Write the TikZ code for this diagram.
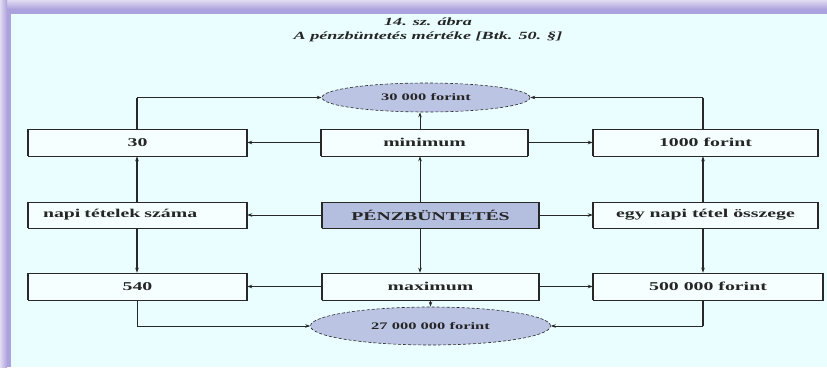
\documentclass[tikz,border=0pt]{standalone}
\usepackage{fontspec}
\setmainfont{Liberation Serif}
\newfontfamily\bx[FakeStretch=1.65]{Liberation Serif}
\usetikzlibrary{shapes.geometric,arrows.meta}
\definecolor{bgc}{RGB}{234,254,255}
\definecolor{frm}{RGB}{172,162,221}
\definecolor{frml}{RGB}{225,220,242}
\definecolor{boxf}{RGB}{246,255,255}
\definecolor{penf}{RGB}{180,190,222}
\definecolor{ellf}{RGB}{188,196,228}
\definecolor{ln}{RGB}{40,40,40}
\begin{document}
\begin{tikzpicture}[x=1pt,y=-1pt,
  box/.style={draw=ln,line width=0.5pt,fill=boxf,minimum height=27pt,inner sep=0pt,
    font=\bx\bfseries\fontsize{12}{14}\selectfont,text=black!85},
  oval/.style={ellipse,draw=ln,densely dashed,line width=0.6pt,fill=ellf,inner sep=0pt,
    font=\bx\bfseries\fontsize{10}{12}\selectfont,text=black!85},
  ttl/.style={font=\bx\bfseries\itshape\fontsize{11}{13}\selectfont,text=black!85},
  arr/.style={draw=ln,line width=0.6pt,-{Stealth[length=5pt,width=3.5pt]}},
  varr/.style={arr,line width=1.3pt},
  seg/.style={draw=ln,line width=1.3pt}]
\useasboundingbox (0,0) rectangle (827,367);
% frame
\fill[frm] (0,0) rectangle (827,367);
\shade[top color=frml,bottom color=frm] (0,0) rectangle (827,9);
\shade[left color=frml,right color=frm] (0,0) rectangle (7,367);
\fill[bgc] (11,14) rectangle (827,367);
% title
\node[ttl] (t1) at (428,22) {14. sz. ábra};
\node[ttl] (t2) at (428,37) {A pénzbüntetés mértéke [Btk. 50. §]};
% column coordinates
\coordinate (lx) at (137,0);
\coordinate (mx) at (420,0);
\coordinate (rx) at (703,0);
% ovals
\node[oval,minimum width=208pt,minimum height=29pt] (e1) at (426,97.5) {30 000 forint};
\node[oval,minimum width=240pt,minimum height=38pt] (e2) at (430.5,326) {27 000 000 forint};
% boxes
\node[box,minimum width=219pt] (n30) at (137.5,142.5) {30};
\node[box,minimum width=206pt] (min) at (424.5,142.5) {minimum};
\node[box,minimum width=225pt] (f1000) at (705.5,142.5) {1000 forint};
\node[box,minimum width=219pt,minimum height=26pt,text width=189pt,inner xsep=15pt,align=left] (napi) at (137.5,215) {napi tételek száma};
\node[box,fill=penf,minimum width=217pt,minimum height=26pt] (pen) at (430.5,215) {PÉNZBÜNTETÉS};
\node[box,minimum width=225pt,minimum height=26pt] (egy) at (705.5,215) {egy napi tétel összege};
\node[box,minimum width=219pt] (n540) at (137.5,286.5) {540};
\node[box,minimum width=217pt] (max) at (430.5,286.5) {maximum};
\node[box,minimum width=230pt] (f500) at (708,286.5) {500 000 forint};
\foreach \n in {n30,min,f1000,napi,pen,egy,n540,max,f500}{
  \draw[line width=1.6pt,ln] (\n.north west) -- (\n.south west) (\n.north east) -- (\n.south east);}
% connectors: top
\draw[seg] (n30.north -| lx) -- (e1.west -| lx);
\draw[arr] (e1.west -| lx) -- (e1.west);
\draw[seg] (f1000.north -| rx) -- (e1.east -| rx);
\draw[arr] (e1.east -| rx) -- (e1.east);
\draw[arr,line width=1pt] (min.north -| mx) -- (e1.south -| mx);
% row 1
\draw[arr] (min.west) -- (n30.east);
\draw[arr] (min.east) -- (f1000.west);
% centre
\draw[arr,line width=1pt] (pen.north -| mx) -- (min.south -| mx);
\draw[arr] (pen.west) -- (napi.east);
\draw[arr] (pen.east) -- (egy.west);
\draw[arr,line width=1pt] (pen.south -| mx) -- (max.north -| mx);
% side columns
\draw[varr] (napi.north -| lx) -- (n30.south -| lx);
\draw[varr] (napi.south -| lx) -- (n540.north -| lx);
\draw[varr] (egy.north -| rx) -- (f1000.south -| rx);
\draw[varr] (egy.south -| rx) -- (f500.north -| rx);
% row 3
\draw[arr] (max.west) -- (n540.east);
\draw[arr] (max.east) -- (f500.west);
% bottom
\draw[arr] (max.south) -- (e2.north);
\draw[arr] (n540.south -| lx) |- (e2.west);
\draw[seg] (f500.south -| rx) -- (e2.east -| rx);
\draw[arr] (e2.east -| rx) -- (e2.east);
\end{tikzpicture}
\end{document}
